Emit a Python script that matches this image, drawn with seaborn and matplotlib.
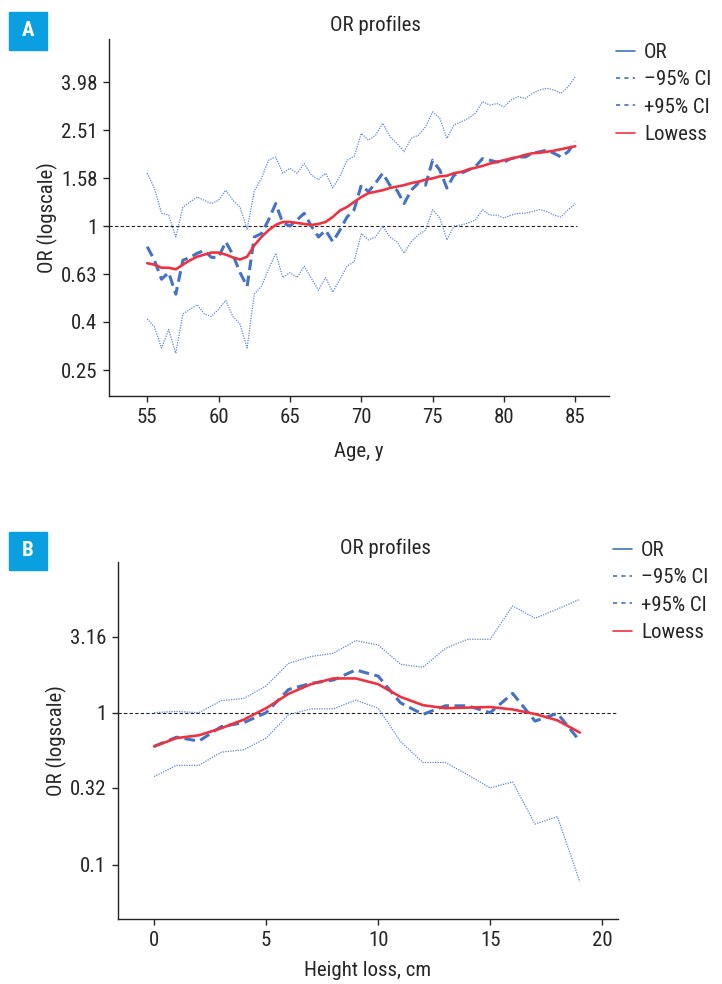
import numpy as np
import pandas as pd
import matplotlib
matplotlib.use("Agg")
import matplotlib.pyplot as plt
from matplotlib.lines import Line2D
from matplotlib.patches import Rectangle
import seaborn as sns

# ---- data ----
ages = np.arange(55, 85.01, 0.5)

or_a = [0.82, 0.72, 0.60, 0.64, 0.52, 0.72, 0.74, 0.77, 0.79, 0.74, 0.74, 0.86, 0.76, 0.64, 0.56,
        0.90, 0.93, 1.06, 1.24, 1.03, 1.00, 1.06, 1.13, 1.00, 0.90, 0.96, 0.86, 0.96, 1.09, 1.17,
        1.48, 1.39, 1.51, 1.66, 1.48, 1.41, 1.24, 1.41, 1.51, 1.48, 1.88, 1.71, 1.44, 1.63, 1.66,
        1.71, 1.77, 1.91, 1.88, 1.85, 1.85, 1.91, 1.94, 1.94, 2.01, 2.04, 2.07, 2.01, 1.94, 2.04, 2.25]
lo_a = [0.41, 0.38, 0.31, 0.37, 0.295, 0.43, 0.45, 0.47, 0.43, 0.42, 0.45, 0.49, 0.42, 0.39, 0.31,
        0.52, 0.56, 0.66, 0.77, 0.61, 0.64, 0.61, 0.68, 0.605, 0.54, 0.61, 0.53, 0.60, 0.68, 0.71,
        0.93, 0.875, 0.90, 1.00, 0.90, 0.86, 0.77, 0.86, 0.92, 0.96, 1.17, 1.08, 0.875, 1.00, 1.01,
        1.03, 1.06, 1.17, 1.11, 1.11, 1.08, 1.11, 1.13, 1.13, 1.15, 1.17, 1.15, 1.11, 1.09, 1.17, 1.24]
hi_a = [1.66, 1.44, 1.13, 1.11, 0.90, 1.20, 1.26, 1.32, 1.28, 1.24, 1.28, 1.41, 1.28, 1.20, 0.97,
        1.40, 1.58, 1.88, 1.94, 1.66, 1.74, 1.66, 1.82, 1.63, 1.56, 1.66, 1.44, 1.61, 1.88, 1.95,
        2.43, 2.28, 2.39, 2.68, 2.36, 2.21, 2.04, 2.32, 2.39, 2.59, 2.99, 2.81, 2.32, 2.64, 2.72,
        2.81, 2.95, 3.30, 3.19, 3.24, 3.14, 3.35, 3.46, 3.40, 3.57, 3.69, 3.75, 3.69, 3.57, 3.81, 4.19]
lowess_a = [0.70, 0.69, 0.67, 0.67, 0.66, 0.69, 0.72, 0.745, 0.76, 0.775, 0.775, 0.76, 0.74, 0.725, 0.745,
            0.83, 0.90, 0.96, 1.01, 1.04, 1.04, 1.03, 1.02, 1.01, 1.02, 1.04, 1.09, 1.16, 1.20, 1.26,
            1.32, 1.37, 1.39, 1.41, 1.44, 1.46, 1.48, 1.51, 1.53, 1.56, 1.58, 1.61, 1.62, 1.66, 1.68,
            1.72, 1.75, 1.78, 1.82, 1.85, 1.88, 1.91, 1.94, 1.98, 2.01, 2.02, 2.04, 2.06, 2.09, 2.12, 2.15]

height_loss = np.arange(0, 20)
or_b = [0.60, 0.69, 0.65, 0.81, 0.86, 1.00, 1.42, 1.56, 1.64, 1.91, 1.74, 1.16, 0.975, 1.11, 1.11,
        1.00, 1.34, 0.88, 0.99, 0.65]
lo_b = [0.38, 0.45, 0.45, 0.55, 0.57, 0.68, 0.97, 1.06, 1.06, 1.21, 1.07, 0.645, 0.47, 0.47, 0.39,
        0.32, 0.35, 0.185, 0.207, 0.077]
hi_b = [1.00, 1.02, 1.00, 1.20, 1.24, 1.50, 2.11, 2.34, 2.46, 2.98, 2.79, 2.08, 1.99, 2.65, 3.04,
        3.04, 5.04, 4.18, 4.81, 5.57]
lowess_b = [0.60, 0.68, 0.71, 0.79, 0.90, 1.07, 1.33, 1.54, 1.68, 1.68, 1.54, 1.27, 1.12, 1.07, 1.08,
            1.09, 1.05, 0.98, 0.89, 0.74]

yticks_a = [0.25, 0.4, 0.63, 1, 1.58, 2.51, 3.98]
yticks_b = [0.1, 0.32, 1, 3.16]
xticks_a = [55, 60, 65, 70, 75, 80, 85]
xticks_b = [0, 5, 10, 15, 20]
legend_labels = ["OR", "\u201395% CI", "+95% CI", "Lowess"]

# ---- style ----
sns.set_style("ticks")
plt.rcParams["font.family"] = ["Liberation Sans Narrow", "Roboto Condensed", "DejaVu Sans"]
plt.rcParams["font.size"] = 15
plt.rcParams["axes.linewidth"] = 1.0
plt.rcParams["axes.edgecolor"] = "#222222"

C_OR = "#4472C4"
C_CI = "#5C86D8"
C_RED = "#EE3340"
C_BADGE = "#0A9FE0"

W, H = 722, 984
fig = plt.figure(figsize=(W / 100, H / 100), dpi=100)


def fx(px):
    return px / W


def fy(py):
    return 1 - py / H


def panel(ax, x, orv, lo, hi, lw_vals, xlabel, yticks, xticks, xlim, ylim, hline_end, xpad):
    df = pd.DataFrame({"x": x, "OR": orv, "lo": lo, "hi": hi, "lowess": lw_vals})
    ax.set_yscale("log")
    sns.lineplot(data=df, x="x", y="hi", ax=ax, color=C_CI, lw=0.9, linestyle=(0, (1, 1)))
    sns.lineplot(data=df, x="x", y="lo", ax=ax, color=C_CI, lw=0.9, linestyle=(0, (1, 1)))
    sns.lineplot(data=df, x="x", y="OR", ax=ax, color=C_OR, lw=2.2, linestyle=(0, (3.5, 1.8)))
    sns.lineplot(data=df, x="x", y="lowess", ax=ax, color=C_RED, lw=1.9)
    ax.axhline(1, xmin=0, xmax=hline_end, color="#222222", lw=0.8, ls=(0, (3, 2)), zorder=1)
    ax.set_xlim(*xlim)
    ax.set_ylim(*ylim)
    ax.minorticks_off()
    ax.set_yticks(yticks)
    ax.set_yticklabels([f"{t:g}" for t in yticks])
    ax.set_xticks(xticks)
    ax.set_xticklabels([str(t) for t in xticks])
    ax.tick_params(length=4.5, width=1.0, pad=4, labelsize=15)
    ax.set_xlabel(xlabel, fontsize=15, labelpad=xpad)
    ax.set_ylabel("OR (logscale)", fontsize=15, labelpad=2)
    sns.despine(ax=ax)


def legend(ax, top_px, left_px):
    handles = [
        Line2D([], [], color=C_OR, lw=1.2),
        Line2D([], [], color=C_OR, lw=1.2, ls=(0, (2.5, 2.5))),
        Line2D([], [], color=C_OR, lw=1.2, ls=(0, (2.5, 2.5))),
        Line2D([], [], color=C_RED, lw=1.2),
    ]
    ax.legend(handles, legend_labels, loc="upper left",
              bbox_to_anchor=(fx(left_px), fy(top_px)), bbox_transform=fig.transFigure,
              frameon=False, borderpad=0, borderaxespad=0, handlelength=0.9,
              handletextpad=0.45, labelspacing=0.4, fontsize=15)


def badge(letter, x0, y0):
    fig.patches.append(Rectangle((fx(x0), fy(y0 + 38)), fx(38), 38 / H,
                                 transform=fig.transFigure, color=C_BADGE, zorder=5))
    fig.text(fx(x0 + 19), fy(y0 + 19), letter, color="white", fontsize=15,
             fontweight="bold", ha="center", va="center", zorder=6)


# panel A
ax_a = fig.add_axes([fx(109.3), fy(396), fx(609 - 109.3), (396 - 39.3) / H])
panel(ax_a, ages, or_a, lo_a, hi_a, lowess_a, "Age, y", yticks_a, xticks_a,
      (52.34, 87.36), (0.1957, 6.0), 0.936, 11)
legend(ax_a, 43, 616)
fig.text(fx(375), fy(25), "OR profiles", ha="center", va="center", fontsize=15)
badge("A", 9, 12)

# panel B
ax_b = fig.add_axes([fx(118), fy(919), fx(617.5 - 118), (919 - 562.3) / H])
panel(ax_b, height_loss, or_b, lo_b, hi_b, lowess_b, "Height loss, cm", yticks_b, xticks_b,
      (-1.61, 20.68), (0.0439, 9.76), 1.0, 8)
legend(ax_b, 541, 613)
fig.text(fx(385), fy(548), "OR profiles", ha="center", va="center", fontsize=15)
badge("B", 9, 532)

fig.savefig("out.png", dpi=100)
